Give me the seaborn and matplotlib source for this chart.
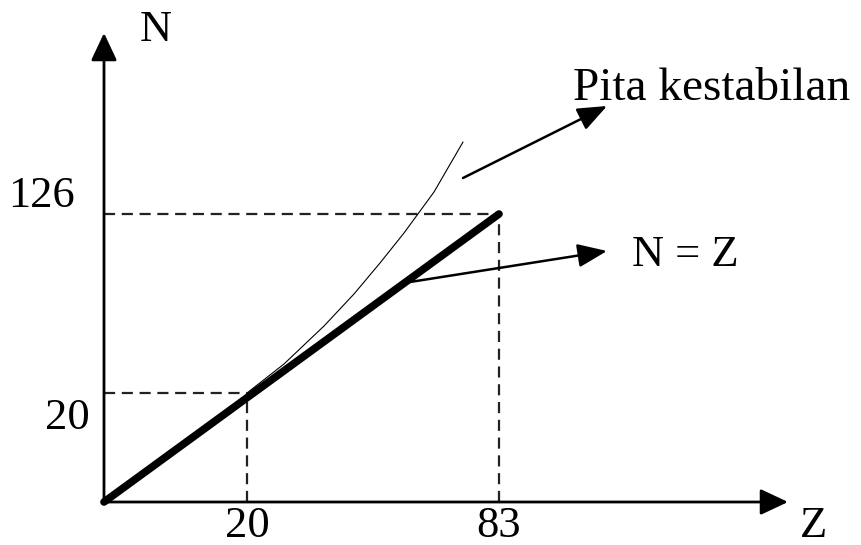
import matplotlib
matplotlib.use("Agg")
import matplotlib.pyplot as plt
import seaborn as sns
import pandas as pd

# schematic diagram: positions are in diagram units (not to scale)
z_tick_pos = [143, 395]
z_tick_labels = ["20", "83"]
n_tick_pos = [109, 288]
n_tick_labels = ["20", "126"]

# N = Z line (thick)
line_z = [0, 395]
line_n = [0, 288]

# stability band curve (thin)
curve_z = [143, 180, 220, 250, 276, 300, 330, 359]
curve_n = [109, 138, 176, 208, 239, 269, 310, 360]

sns.set_theme(style="white")
plt.rcParams["font.family"] = ["Liberation Serif", "DejaVu Serif"]
plt.rcParams["text.color"] = "black"

fig = plt.figure(figsize=(8.61, 5.45), dpi=100)
ax = fig.add_axes([0, 0, 1, 1])
ax.set_xlim(-104, 757)
ax.set_ylim(-43, 502)
ax.axis("off")

arrow_axis = dict(arrowstyle="-|>,head_length=0.85,head_width=0.4",
                  color="black", lw=2, mutation_scale=20,
                  shrinkA=0, shrinkB=0)
arrow_call = dict(arrowstyle="-|>,head_length=0.9,head_width=0.36",
                  color="black", lw=1.8, mutation_scale=20,
                  shrinkA=0, shrinkB=0)

# axes with arrows
ax.annotate("", xy=(684, 0), xytext=(0, 0), arrowprops=arrow_axis)
ax.annotate("", xy=(0, 469), xytext=(0, 0), arrowprops=arrow_axis)

# dashed guides
for zp, np_ in zip(z_tick_pos, n_tick_pos):
    ax.plot([0, zp], [np_, np_], ls=(0, (5, 3)), color="#222222", lw=1.6)
    ax.plot([zp, zp], [0, np_], ls=(0, (5, 3)), color="#222222", lw=1.6)

sns.lineplot(data=pd.DataFrame({"Z": line_z, "N": line_n}), x="Z", y="N",
             ax=ax, color="black", lw=5.5, sort=False,
             solid_capstyle="round")
sns.lineplot(data=pd.DataFrame({"Z": curve_z, "N": curve_n}), x="Z", y="N",
             ax=ax, color="black", lw=0.8, sort=False)

# tick labels
fs = 32
for zp, lab in zip(z_tick_pos, z_tick_labels):
    ax.text(zp, -35, lab, ha="center", va="baseline", fontsize=fs, color="black")
ax.text(-14, 84, n_tick_labels[0], ha="right", va="center", fontsize=fs, color="black")
ax.text(-29, 306, n_tick_labels[1], ha="right", va="center", fontsize=fs, color="black")

# axis names
ax.text(710, -35, "Z", ha="center", va="baseline", fontsize=fs, color="black")
ax.text(52, 472, "N", ha="center", va="center", fontsize=fs, color="black")

# callouts
ax.annotate("", xy=(503, 396), xytext=(359, 324), arrowprops=arrow_call)
ax.text(469, 402, "Pita kestabilan", ha="left", va="baseline", fontsize=34,
        color="black")

ax.annotate("", xy=(503, 251), xytext=(306, 220), arrowprops=arrow_call)
ax.text(528, 236, "N = Z", ha="left", va="baseline", fontsize=fs, color="black")

fig.savefig("out.png", dpi=100)
